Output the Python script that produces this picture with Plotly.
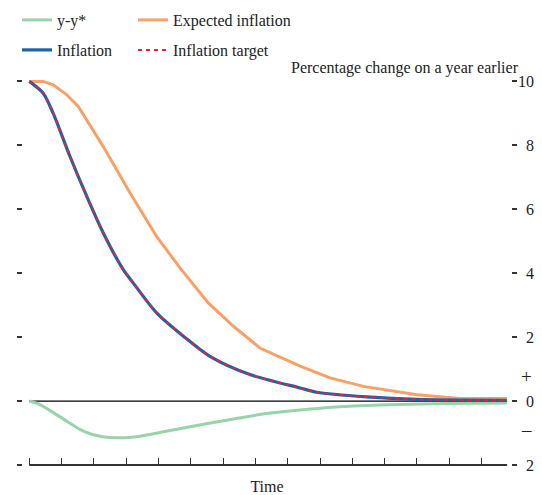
import plotly.graph_objects as go

# ---- data ----
infl_t = [0, 0.43, 0.74, 1.26, 1.78, 2.29, 2.91, 3.22, 3.94, 4.77, 5.59, 6.83, 8.38, 8.9, 10.45, 12.0, 14.78]
infl_v = [10, 9.63, 9.0, 7.65, 6.4, 5.26, 4.11, 3.69, 2.76, 2.03, 1.40, 0.83, 0.41, 0.275, 0.13, 0.05, 0.02]

target_t = infl_t
target_v = infl_v

exp_t = [0, 0.43, 0.74, 1.16, 1.52, 2.29, 3.12, 3.94, 4.67, 5.54, 6.32, 7.14, 8.38, 9.31, 10.34, 12.0, 13.33, 14.78]
exp_v = [10, 10, 9.89, 9.58, 9.21, 7.96, 6.51, 5.15, 4.16, 3.07, 2.34, 1.66, 1.09, 0.725, 0.46, 0.2, 0.08, 0.08]

gap_t = [0, 0.33, 1.16, 1.67, 2.19, 2.81, 3.43, 4.77, 6.32, 7.35, 8.9, 10.45, 13.0, 14.78]
gap_v = [0, -0.11, -0.63, -0.94, -1.10, -1.15, -1.10, -0.84, -0.56, -0.39, -0.23, -0.14, -0.08, -0.06]

y_tickvals = [-2, 0, 2, 4, 6, 8, 10]
y_ticktext = ["2", "0", "2", "4", "6", "8", "10"]
x_tickvals = list(range(0, 15))
x_end = 14.79

FONT = "Liberation Serif"
FS = 16
GREEN = "#98d4ab"
ORANGE = "#f8a066"
BLUE = "#1a64a8"
RED = "#e8203a"

W, H = 542, 495
M_L, M_R, M_T, M_B = 23, 31, 75, 30
PLOT_W = W - M_L - M_R
PLOT_H = H - M_T - M_B


def px_to_paper_x(px):
    return (px - M_L) / PLOT_W


def px_to_paper_y(py):
    return (H - M_B - py) / PLOT_H


fig = go.Figure()
fig.add_trace(go.Scatter(x=gap_t, y=gap_v, mode="lines", name="y-y*",
                         line=dict(color=GREEN, width=3, shape="spline", smoothing=0.8),
                         legend="legend"))
fig.add_trace(go.Scatter(x=exp_t, y=exp_v, mode="lines", name="Expected inflation",
                         line=dict(color=ORANGE, width=3), legend="legend2"))
fig.add_trace(go.Scatter(x=infl_t, y=infl_v, mode="lines", name="Inflation",
                         line=dict(color=BLUE, width=3.2, shape="spline", smoothing=0.8),
                         legend="legend3"))
fig.add_trace(go.Scatter(x=target_t, y=target_v, mode="lines", name="Inflation target",
                         line=dict(color=RED, width=2, dash="4px,4px", shape="spline", smoothing=0.8),
                         legend="legend4"))

shapes = [
    dict(type="line", xref="x", yref="y", x0=0, x1=x_end, y0=0, y1=0,
         line=dict(color="black", width=1.3), layer="below"),
    dict(type="line", xref="x", yref="paper", x0=0, x1=x_end, y0=0, y1=0,
         line=dict(color="#333", width=2)),
]

annotations = []
for v, t in zip(y_tickvals, y_ticktext):
    annotations.append(dict(x=px_to_paper_x(536), xref="paper", xanchor="right", y=v, yref="y",
                            yanchor="middle", text=t, showarrow=False,
                            font=dict(family=FONT, size=FS, color="#222")))

annotations += [
    dict(xref="paper", x=px_to_paper_x(521), xanchor="right", yref="paper", y=px_to_paper_y(68),
         yanchor="middle", text="Percentage change on a year earlier", showarrow=False,
         font=dict(family=FONT, size=FS, color="#222")),
    dict(xref="paper", x=px_to_paper_x(526), xanchor="center", yref="y", y=0.77,
         text="+", showarrow=False, font=dict(family=FONT, size=19, color="#222")),
    dict(xref="paper", x=px_to_paper_x(526), xanchor="center", yref="y", y=-0.9,
         text="\u2013", showarrow=False, font=dict(family=FONT, size=19, color="#222")),
]


def leg(xpx, ypx):
    return dict(orientation="h", x=xpx / W, xref="container", xanchor="left",
                y=1 - ypx / H, yref="container", yanchor="middle",
                font=dict(family=FONT, size=FS, color="#222"), bgcolor="rgba(0,0,0,0)")


fig.update_layout(
    width=W, height=H, autosize=False,
    margin=dict(l=M_L, r=M_R, t=M_T, b=M_B, autoexpand=False),
    paper_bgcolor="white", plot_bgcolor="white",
    font=dict(family=FONT, size=FS, color="#222"),
    showlegend=True,
    legend=leg(17, 20),
    legend2=leg(133, 20),
    legend3=leg(17, 50),
    legend4=leg(133, 50),
    xaxis=dict(range=[-0.195, 14.91], showgrid=False, zeroline=False, showline=False,
               tickvals=x_tickvals, ticks="inside", ticklen=7, tickwidth=1.3,
               tickcolor="#333", showticklabels=False,
               title=dict(text="Time", standoff=16, font=dict(family=FONT, size=FS, color="#222"))),
    yaxis=dict(range=[-2, 10.2], showgrid=False, zeroline=False, showline=False,
               tickvals=y_tickvals, ticks="outside", ticklen=5, tickwidth=1.5,
               tickcolor="#333", showticklabels=False, mirror="ticks"),
    shapes=shapes,
    annotations=annotations,
)

fig.write_html("out.html", config={"displayModeBar": False},
               post_script="document.body.style.margin='0';")
